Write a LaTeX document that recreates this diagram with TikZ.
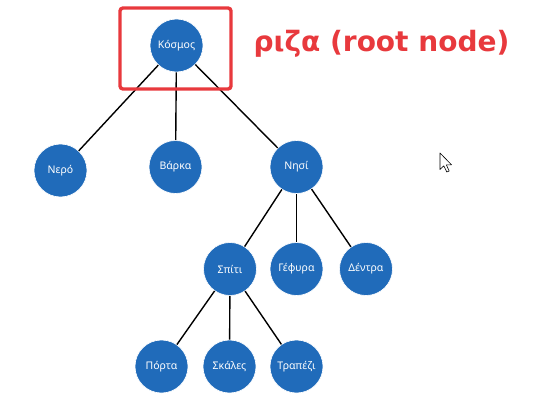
\documentclass[tikz,border=0pt]{standalone}
\usepackage{fontspec}
\setmainfont{Noto Sans}
\newfontfamily\labelfont{DejaVu Sans}
\definecolor{nodeblue}{RGB}{32,107,186}
\definecolor{markred}{RGB}{232,57,61}
\begin{document}
\begin{tikzpicture}
[x=1pt,y=-1pt,treenode/.style={circle,fill=nodeblue,draw=white,line width=0.6pt,minimum size=53pt,inner sep=0pt,text=white,font=\fontsize{10.5}{12}\selectfont}]
   \useasboundingbox (0,0) rectangle (537,417);
   \node[treenode] (kosmos) at (176.5,45.5) {Κόσμος};
   \node[treenode] (nero) at (60.5,170.5) {Νερό};
   \node[treenode] (varka) at (175.5,167) {Βάρκα};
   \node[treenode] (nisi) at (296.5,167) {Νησί};
   \node[treenode] (spiti) at (230,269) {Σπίτι};
   \node[treenode] (gefyra) at (296.5,269) {Γέφυρα};
   \node[treenode] (dentra) at (366,269) {Δέντρα};
   \node[treenode] (porta) at (161.5,366.5) {Πόρτα};
   \node[treenode] (skales) at (229.5,366.5) {Σκάλες};
   \node[treenode] (trapezi) at (296.5,366.5) {Τραπέζι};
    \path[-,draw,line width=1.4pt] 
    (kosmos) edge (nero)
    (kosmos) edge (varka)
    (kosmos) edge (nisi)
    (nisi) edge (spiti)
    (nisi) edge (gefyra)
    (nisi) edge (dentra)
    (spiti) edge (porta)
    (spiti) edge (skales)
    (spiti) edge (trapezi);
   % root marker
   \draw[markred,line width=3.4pt,rounded corners=3pt] (120,8) rectangle (231,89);
   \node[text=markred,font=\labelfont\bfseries\fontsize{28}{32}\selectfont,inner sep=0pt] (rootlabel) at (381.5,44) {ριζα (root node)};
   % mouse pointer
   \draw[fill=white,line width=0.6pt,line join=round] (440,153) -- (440,169.5) -- (443.8,165.8) -- (446.8,172) -- (449.2,171) -- (446.3,164.8) -- (451.5,164.8) -- cycle;
\end{tikzpicture}
\end{document}
